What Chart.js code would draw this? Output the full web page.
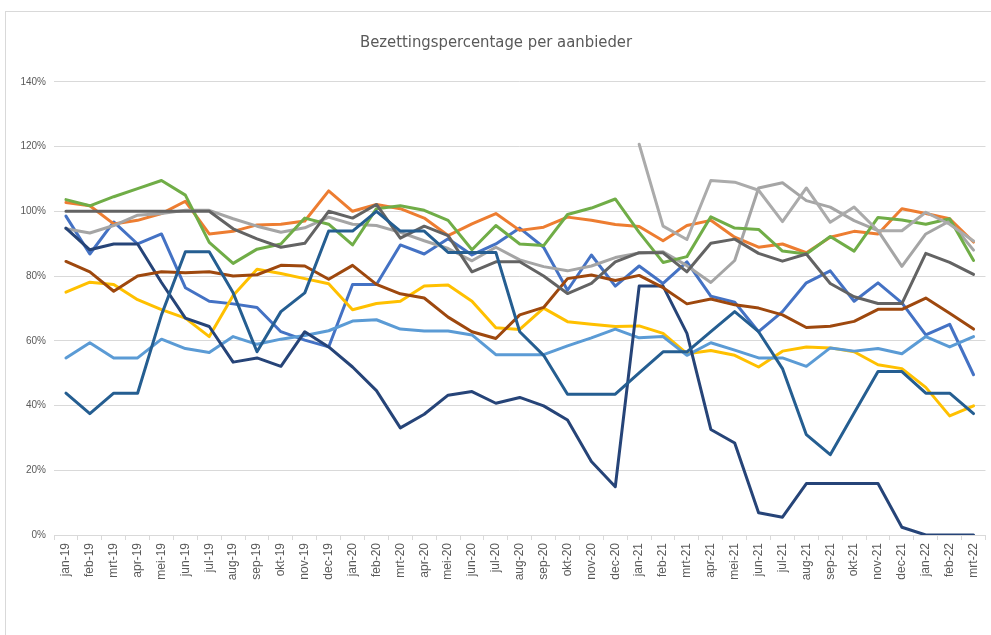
<!DOCTYPE html>
<html>
<head>
<meta charset="utf-8">
<title>Bezettingspercentage per aanbieder</title>
<script src="https://cdn.jsdelivr.net/npm/chart.js@4.4.1/dist/chart.umd.min.js"></script>
<style>
  html, body { margin: 0; padding: 0; background: #fff; }
  #wrap { position: absolute; left: 0; top: 0; width: 991px; height: 635px; }
  #frame { position: absolute; left: 5px; top: 11px; width: 990px; height: 630px; border: 1px solid #d9d9d9; box-sizing: border-box; }
</style>
</head>
<body>
<div id="frame"></div>
<div id="wrap"><canvas id="chart"></canvas></div>
<script>
// Months (x categories)
const months = [
  'jan-19', 'feb-19', 'mrt-19', 'apr-19', 'mei-19', 'jun-19', 'jul-19', 'aug-19', 'sep-19', 'okt-19', 'nov-19', 'dec-19',
  'jan-20', 'feb-20', 'mrt-20', 'apr-20', 'mei-20', 'jun-20', 'jul-20', 'aug-20', 'sep-20', 'okt-20', 'nov-20', 'dec-20',
  'jan-21', 'feb-21', 'mrt-21', 'apr-21', 'mei-21', 'jun-21', 'jul-21', 'aug-21', 'sep-21', 'okt-21', 'nov-21', 'dec-21',
  'jan-22', 'feb-22', 'mrt-22'
];

// Occupancy per provider, in percent
const blue = [98.5, 86.8, 96.7, 89.9, 93, 76.4, 72.2, 71.4, 70.3, 62.8, 60.2, 58.1,
  77.4, 77.4, 89.6, 86.8, 91.5, 86.5, 89.9, 94.8, 88.9, 75.6, 86.5, 76.9,
  83.1, 77.7, 84.4, 73.8, 71.9, 62.8, 69, 77.9, 81.6, 72.2, 77.9, 71.7,
  61.8, 65.1, 49.5];
const orange = [102.7, 101.7, 96.1, 97.2, 99.3, 103.1, 93, 93.8, 95.8, 96, 97, 106.3,
  100, 102.1, 100.8, 97.9, 92.5, 96.1, 99.3, 94.1, 95.1, 98.2, 97.2, 95.9,
  95.3, 90.9, 95.6, 97.2, 92, 88.9, 89.9, 87.2, 92, 93.8, 93, 100.8,
  99.3, 97.7, 90.5];
const lightGray = [94.6, 93.3, 95.6, 98.8, 99.3, 100.3, 100.3, 97.7, 95.4, 93.5, 94.9, 98.2,
  96, 95.6, 93.5, 90.9, 88.5, 84.7, 88.9, 85, 82.9, 81.6, 83.1, 85.7,
  87.1, 87.5, 83.2, 78, 84.8, 107.2, 108.8, 103.3, 101.3, 97.1, 94, 83,
  93, 97, 88];
const gold = [75, 78.1, 77.4, 72.7, 69.6, 67, 61.3, 74, 82.1, 80.8, 79.2, 77.6,
  69.6, 71.5, 72.2, 76.9, 77.2, 72.2, 64, 63.5, 70.1, 65.9, 65.1, 64.4,
  64.6, 62.3, 56, 57, 55.5, 51.9, 56.8, 58.1, 57.8, 56.6, 52.6, 51.4,
  45.6, 36.8, 39.9];
const lightBlue = [54.7, 59.4, 54.7, 54.7, 60.5, 57.6, 56.4, 61.3, 58.9, 60.5, 61.6, 63.1,
  66.1, 66.5, 63.6, 63, 63, 61.8, 55.7, 55.7, 55.7, 58.4, 60.9, 63.6,
  60.9, 61.3, 55.5, 59.4, 57.1, 54.7, 54.7, 52.1, 57.8, 56.8, 57.6, 56,
  61.3, 58.1, 61.3];
const green = [103.6, 101.7, 104.5, 107, 109.5, 105, 90.4, 83.9, 88.3, 89.9, 97.9, 96,
  89.6, 100.8, 101.7, 100.3, 97.2, 88.1, 95.6, 89.9, 89.4, 99, 101, 103.8,
  93.5, 84.2, 86, 98.3, 94.8, 94.4, 87.7, 86.8, 92.2, 87.7, 98.1, 97.3,
  96, 97.7, 84.8];
const navy = [94.8, 88.1, 89.9, 89.9, 78, 67, 64.4, 53.4, 54.7, 52.1, 62.8, 58.1,
  51.9, 44.6, 33.1, 37.3, 43.2, 44.3, 40.7, 42.5, 39.9, 35.5, 22.7, 14.9,
  76.9, 76.9, 62.3, 32.6, 28.4, 6.9, 5.5, 15.9, 15.9, 15.9, 15.9, 2.4,
  0, 0, 0];
const brown = [84.5, 81.3, 75.3, 80, 81.3, 81, 81.3, 80, 80.4, 83.3, 83.1, 79,
  83.3, 77.4, 74.5, 73.2, 67.3, 62.8, 60.7, 68, 70.3, 79.2, 80.3, 78.6,
  80.2, 76.4, 71.4, 72.9, 71.1, 70.1, 68, 64.1, 64.5, 66, 69.7, 69.7,
  73.2, 68.5, 63.6];
const darkGray = [100, 100, 100, 100, 100, 100, 100, 94.6, 91.5, 88.9, 90.1, 100,
  97.9, 102.1, 91.7, 95.4, 92.5, 81.3, 84.4, 84.4, 80, 74.6, 77.7, 84.4,
  87.2, 87.2, 81.3, 90.1, 91.4, 87, 84.6, 86.8, 77.7, 73.6, 71.5, 71.5,
  87, 84.2, 80.5];
const steelBlue = [43.8, 37.5, 43.8, 43.8, 68, 87.5, 87.5, 74.8, 56.6, 69, 74.8, 93.9,
  93.9, 100, 93.9, 93.9, 87.3, 87.3, 87.3, 62.8, 55.5, 43.5, 43.5, 43.5,
  50.1, 56.6, 56.6, 62.8, 69, 62.8, 51.4, 31, 24.8, 37.7, 50.5, 50.5,
  43.8, 43.8, 37.5];
const paleGray = [null, null, null, null, null, null, null, null, null, null, null, null,
  null, null, null, null, null, null, null, null, null, null, null, null,
  120.7, 95.4, 91.3, 109.5, 109, 106.5, 96.8, 107.2, 96.6, 101.3, 94, 94,
  99.7, 96, 90.8];

// Y axis ticks
const yTicks = [0, 20, 40, 60, 80, 100, 120, 140];

const series = [
  { data: blue, color: '#4472C4' },
  { data: orange, color: '#ED7D31' },
  { data: lightGray, color: '#A5A5A5' },
  { data: gold, color: '#FFC000' },
  { data: lightBlue, color: '#5B9BD5' },
  { data: green, color: '#70AD47' },
  { data: navy, color: '#264478' },
  { data: brown, color: '#9E480E' },
  { data: darkGray, color: '#636363' },
  { data: steelBlue, color: '#255E91' },
  { data: paleGray, color: '#ABABAB' }
];

const labelFont = "'Liberation Sans', Arial, sans-serif";

document.addEventListener('DOMContentLoaded', () => {
  const ctx = document.getElementById('chart');
  new Chart(ctx, {
    type: 'line',
    data: {
      labels: months,
      datasets: series.map((s, i) => ({
        data: s.data,
        borderColor: s.color,
        backgroundColor: s.color,
        borderWidth: 3,
        pointRadius: 0,
        tension: 0,
        borderJoinStyle: 'round',
        borderCapStyle: 'round',
        spanGaps: false,
        order: series.length - i
      }))
    },
    options: {
      responsive: true,
      maintainAspectRatio: false,
      animation: false,
      layout: { padding: { top: 12, left: 5, right: 4, bottom: 0 } },
      plugins: {
        legend: { display: false },
        tooltip: { enabled: false },
        title: {
          display: true,
          text: 'Bezettingspercentage per aanbieder',
          color: '#595959',
          font: { family: "'Liberation Sans Narrow', 'DejaVu Sans Condensed', sans-serif", size: 16.5, weight: 'normal' },
          padding: { top: 21, bottom: 29 }
        }
      },
      scales: {
        x: {
          offset: true,
          grid: { offset: true, drawOnChartArea: false, drawTicks: true, tickLength: 5, color: '#d9d9d9' },
          border: { color: '#d9d9d9' },
          ticks: {
            color: '#595959',
            font: { family: labelFont, size: 12 },
            minRotation: 90,
            maxRotation: 90,
            autoSkip: false,
            padding: 3
          },
          afterFit: (scale) => { scale.height = 100; }
        },
        y: {
          min: 0,
          max: 140,
          afterBuildTicks: (scale) => { scale.ticks = yTicks.map(v => ({ value: v })); },
          grid: { color: '#d9d9d9', drawTicks: false },
          border: { display: false },
          ticks: {
            color: '#595959',
            font: { family: labelFont, size: 10 },
            padding: 8,
            callback: (v) => v + '%'
          },
          afterFit: (scale) => { scale.width = 49; }
        }
      }
    }
  });
});
</script>
</body>
</html>
